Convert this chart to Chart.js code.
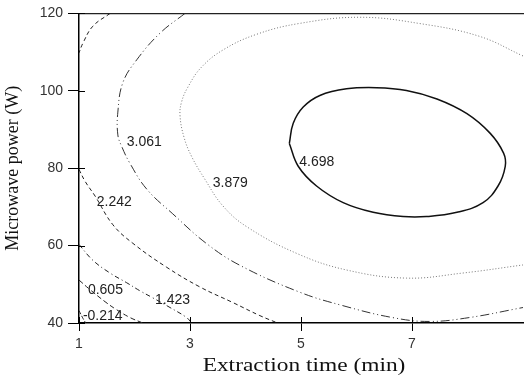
<!DOCTYPE html>
<html>
<head>
<meta charset="utf-8">
<script src="https://cdn.jsdelivr.net/npm/chart.js@4/dist/chart.umd.min.js"></script>
<style>
  html, body { margin: 0; padding: 0; background: #fff; }
  #wrap { width: 525px; height: 383px; }
</style>
</head>
<body>
<div id="wrap"><canvas id="chart"></canvas></div>
<script>
// axis ticks
const xTicks = [1, 3, 5, 7];
const yTicks = [40, 60, 80, 100, 120];

// contour levels as printed, and where each label sits (x = min, y = W)
const levels = ["-0.214", "0.605", "1.423", "2.242", "3.061", "3.879", "4.698"];
const labelX = [1.07, 1.16, 2.37, 1.32, 1.86, 3.41, 4.97];
const labelY = [41.9, 48.6, 46.0, 71.3, 86.8, 76.1, 81.5];

// contour lines
const cM0214X = [1.00, 1.06, 1.12];
const cM0214Y = [43.2, 41.5, 40.0];

const c0605X = [1.00, 1.20, 1.47, 1.67, 1.92, 2.15];
const c0605Y = [51.1, 48.6, 45.5, 43.5, 41.4, 40.0];

const c1423X = [1.00, 1.25, 1.56, 1.86, 2.10, 2.33, 2.64, 2.94, 3.03];
const c1423Y = [60.3, 56.2, 52.9, 50.4, 48.3, 46.5, 44.0, 41.4, 40.0];

const c2242X = [1.00, 1.11, 1.29, 1.61, 1.97, 2.58, 3.18, 3.77, 4.26, 4.58];
const c2242Y = [79.7, 76.6, 72.8, 65.4, 60.6, 54.4, 49.3, 45.3, 41.9, 40.0];
// second piece of the same level, top left corner
const c2242bX = [1.56, 1.25, 1.07, 1.00];
const c2242bY = [120.0, 116.7, 112.3, 109.8];

const c3061X = [2.91, 2.46, 2.04, 1.79, 1.70, 1.70, 1.77, 1.92, 2.22, 2.69, 3.30, 3.90, 4.97, 5.75, 6.65, 7.31, 8.03, 9.00];
const c3061Y = [120.0, 114.9, 108.0, 102.1, 94.5, 88.6, 85.6, 81.2, 74.6, 68.2, 60.5, 54.9, 48.0, 44.5, 41.4, 40.4, 41.4, 44.0];

const c3879X = [9.00, 8.21, 7.13, 6.05, 4.97, 4.20, 3.60, 3.20, 2.96, 2.85, 2.82, 2.89, 3.03, 3.27, 3.59, 4.02, 4.92, 5.82, 6.90, 7.91, 9.00];
const c3879Y = [109.0, 114.1, 117.4, 119.0, 117.4, 114.6, 110.6, 106.0, 100.9, 97.2, 93.7, 88.1, 83.0, 77.1, 70.3, 64.9, 58.0, 53.7, 51.6, 52.9, 55.0];

// closed loop, starts and ends on its left side
const c4698X = [4.79, 4.86, 5.04, 5.34, 5.82, 6.36, 6.90, 7.45, 7.99, 8.41, 8.65, 8.68, 8.55, 8.28, 7.81, 7.26, 6.84, 6.30, 5.76, 5.28, 4.95, 4.79];
const c4698Y = [86.4, 91.6, 95.8, 98.8, 100.5, 100.8, 100.1, 97.9, 94.1, 89.0, 83.9, 80.5, 75.4, 71.1, 68.6, 67.5, 67.5, 68.6, 71.1, 75.4, 80.5, 86.4];

function toPoints(xs, ys) {
  return xs.map((x, i) => ({ x: x, y: ys[i] }));
}

function contour(xs, ys, color, width, dash) {
  return {
    data: toPoints(xs, ys),
    xAxisID: "x",
    yAxisID: "y",
    showLine: true,
    borderColor: color,
    borderWidth: width,
    borderDash: dash,
    pointRadius: 0,
    tension: 0.4,
    fill: false
  };
}

const datasets = [
  contour(cM0214X, cM0214Y, "#222", 1, [4, 2]),
  contour(c0605X, c0605Y, "#222", 1, [5, 3]),
  contour(c1423X, c1423Y, "#222", 1, [5, 3, 1, 3]),
  contour(c2242X, c2242Y, "#222", 1, [4, 3]),
  contour(c2242bX, c2242bY, "#222", 1, [4, 3]),
  contour(c3061X, c3061Y, "#333", 1, [9, 3, 1, 3, 1, 3]),
  contour(c3879X, c3879Y, "#777", 1, [1, 2]),
  contour(c4698X, c4698Y, "#111", 1.5, [])
];

// level labels on the lines
const levelLabels = {
  id: "levelLabels",
  afterDatasetsDraw(chart) {
    const { ctx, scales } = chart;
    ctx.save();
    ctx.fillStyle = "#222";
    ctx.font = "14px 'Liberation Sans', Arial, sans-serif";
    ctx.textAlign = "left";
    ctx.textBaseline = "middle";
    levels.forEach((t, i) => {
      ctx.fillText(t, scales.x.getPixelForValue(labelX[i]), scales.y.getPixelForValue(labelY[i]));
    });
    ctx.restore();
  }
};

// tick marks also run a little way into the plot
const innerTicks = {
  id: "innerTicks",
  afterDraw(chart) {
    const { ctx, chartArea, scales } = chart;
    ctx.save();
    ctx.strokeStyle = "#000";
    ctx.lineWidth = 1;
    ctx.beginPath();
    xTicks.forEach(v => {
      const px = Math.round(scales.x.getPixelForValue(v)) + 0.5;
      ctx.moveTo(px, chartArea.bottom);
      ctx.lineTo(px, chartArea.bottom - 6);
    });
    yTicks.forEach(v => {
      const py = Math.round(scales.y.getPixelForValue(v)) + 0.5;
      ctx.moveTo(chartArea.left, py);
      ctx.lineTo(chartArea.left + 6, py);
    });
    ctx.stroke();
    ctx.restore();
  }
};

// x title is printed wide in the original
const xTitle = {
  id: "xTitle",
  afterDraw(chart) {
    const { ctx, chartArea } = chart;
    ctx.save();
    ctx.translate((chartArea.left + chartArea.right) / 2 + 3, chart.height - 17);
    ctx.scale(1.3, 1);
    ctx.fillStyle = "#111";
    ctx.font = "18px 'Liberation Serif', 'Times New Roman', serif";
    ctx.textAlign = "center";
    ctx.textBaseline = "middle";
    ctx.fillText("Extraction time (min)", 0, 0);
    ctx.restore();
  }
};

const tickFont = { family: "'Liberation Sans', Arial, sans-serif", size: 14 };

new Chart(document.getElementById("chart"), {
  type: "scatter",
  data: { datasets: datasets },
  options: {
    responsive: true,
    maintainAspectRatio: false,
    animation: false,
    layout: { padding: { top: 10, right: 2, left: 0, bottom: 0 } },
    plugins: {
      legend: { display: false },
      tooltip: { enabled: false }
    },
    scales: {
      x: {
        type: "linear",
        position: "bottom",
        min: 1,
        max: 9,
        afterBuildTicks: s => { s.ticks = xTicks.map(v => ({ value: v })); },
        afterFit: s => { s.height = 60; },
        grid: { drawOnChartArea: false, tickLength: 8, tickColor: "#000", tickWidth: 1 },
        border: { color: "#000", width: 1.5 },
        ticks: { color: "#333", font: tickFont, padding: 5, maxRotation: 0 }
      },
      xTop: {
        type: "linear",
        position: "top",
        min: 1,
        max: 9,
        ticks: { display: false },
        grid: { display: false, drawTicks: false },
        border: { color: "#222", width: 1.2 },
        afterFit: s => { s.height = 0; }
      },
      y: {
        type: "linear",
        min: 40,
        max: 120,
        afterBuildTicks: s => { s.ticks = yTicks.map(v => ({ value: v })); },
        afterFit: s => { s.width = 79; },
        grid: { drawOnChartArea: false, tickLength: 11, tickColor: "#000", tickWidth: 1 },
        border: { color: "#000", width: 1.5 },
        ticks: { color: "#333", font: tickFont, padding: 5 },
        title: {
          display: true,
          text: "Microwave power (W)",
          color: "#111",
          font: { family: "'Liberation Serif', 'Times New Roman', serif", size: 18 },
          padding: { top: 2, bottom: 0 }
        }
      }
    }
  },
  plugins: [levelLabels, innerTicks, xTitle]
});
</script>
</body>
</html>
